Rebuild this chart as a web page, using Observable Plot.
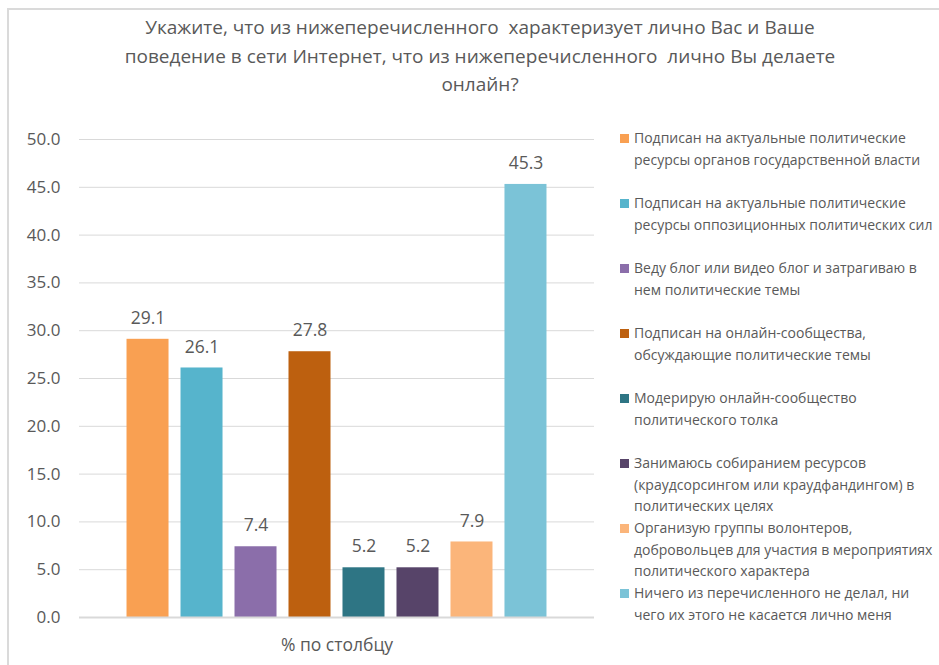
<!DOCTYPE html>
<html>
<head>
<meta charset="utf-8">
<script src="https://cdn.jsdelivr.net/npm/d3@7"></script>
<script src="https://cdn.jsdelivr.net/npm/@observablehq/plot@0.6"></script>
<style>
  body { margin: 0; background: #fff; }
  #wrap { position: relative; width: 939px; height: 665px; overflow: hidden; font-family: "Open Sans", sans-serif; }
  #frame { position: absolute; left: 7px; top: 8px; width: 1000px; height: 1000px; border-left: 2px solid #dadada; border-top: 2px solid #dadada; box-sizing: border-box; }
  #title { position: absolute; left: 40px; width: 880px; top: 13px; text-align: center; color: #595959; font-size: 19px; line-height: 28.5px; }
  #chart { position: absolute; left: 0; top: 0; }
  #legend { position: absolute; left: 620px; top: 127px; width: 319px; color: #595959; font-size: 14px; line-height: 21.5px; }
  .item { position: relative; height: 65px; padding-left: 14px; box-sizing: border-box; white-space: nowrap; }
  .sw { position: absolute; left: 0; top: 7px; width: 9px; height: 9px; }
</style>
</head>
<body>
<div id="wrap">
  <div id="frame"></div>
  <div id="title">Укажите, что из нижеперечисленного&nbsp; характеризует лично Вас и Ваше<br>поведение в сети Интернет, что из нижеперечисленного&nbsp; лично Вы делаете<br>онлайн?</div>
  <div id="chart"></div>
  <div id="legend"></div>
</div>
<script>
const categories = [
  "Подписан на актуальные политические ресурсы органов государственной власти",
  "Подписан на актуальные политические ресурсы оппозиционных политических сил",
  "Веду блог или видео блог и  затрагиваю в нем политические темы",
  "Подписан на онлайн-сообщества, обсуждающие политические темы",
  "Модерирую онлайн-сообщество политического толка",
  "Занимаюсь собиранием ресурсов (краудсорсингом или краудфандингом) в политических целях",
  "Организую группы волонтеров, добровольцев для участия в мероприятиях политического характера",
  "Ничего из перечисленного не делал, ни чего их этого не касается лично меня"
];
const legendLines = [
  ["Подписан на актуальные политические", "ресурсы органов государственной власти"],
  ["Подписан на актуальные политические", "ресурсы оппозиционных политических сил"],
  ["Веду блог или видео блог и  затрагиваю в", "нем политические темы"],
  ["Подписан на онлайн-сообщества,", "обсуждающие политические темы"],
  ["Модерирую онлайн-сообщество", "политического толка"],
  ["Занимаюсь собиранием ресурсов", "(краудсорсингом или краудфандингом) в", "политических целях"],
  ["Организую группы волонтеров,", "добровольцев для участия в мероприятиях", "политического характера"],
  ["Ничего из перечисленного не делал, ни", "чего их этого не касается лично меня"]
];
const values = [29.1, 26.1, 7.4, 27.8, 5.2, 5.2, 7.9, 45.3];
const colors = ["#f9a052", "#56b4cc", "#8b6eaa", "#bd600f", "#2e7584", "#574469", "#fbb57a", "#7bc3d7"];
const yTicks = [0, 5, 10, 15, 20, 25, 30, 35, 40, 45, 50];
const xLabel = "% по столбцу";

const data = categories.map((c, i) => ({category: c, value: values[i], color: colors[i]}));

const chart = Plot.plot({
  width: 939,
  height: 665,
  marginLeft: 79,
  marginRight: 345,
  marginTop: 139,
  marginBottom: 48,
  style: {fontFamily: "Open Sans, sans-serif", color: "#595959", background: "transparent"},
  x: {domain: categories, axis: null, paddingInner: 0.222, paddingOuter: 0.88, round: false},
  y: {domain: [0, 50], ticks: yTicks, tickFormat: d3.format(".1f"), tickSize: 0, tickPadding: 19, label: null},
  color: {domain: categories, range: colors},
  marks: [
    Plot.ruleY(yTicks.filter(d => d > 0), {stroke: "#d9d9d9", strokeWidth: 1}),
    Plot.barY(data, {x: "category", y: "value", fill: "category"}),
    Plot.ruleY([0], {stroke: "#d9d9d9", strokeWidth: 2}),
    Plot.text(data, {x: "category", y: "value", text: d => d3.format(".1f")(d.value), dy: -21, fontSize: 17.5, fill: "#595959"}),
    Plot.text([xLabel], {frameAnchor: "bottom", dy: 33, fontSize: 17.5, fill: "#595959"}),
    Plot.axisY({ticks: yTicks, tickFormat: d3.format(".1f"), tickSize: 0, tickPadding: 19, fontSize: 17, label: null, fill: "#595959"})
  ]
});
document.getElementById("chart").appendChild(chart);

const legend = document.getElementById("legend");
legendLines.forEach((lines, i) => {
  const item = document.createElement("div");
  item.className = "item";
  const sw = document.createElement("div");
  sw.className = "sw";
  sw.style.background = colors[i];
  item.appendChild(sw);
  const txt = document.createElement("div");
  txt.innerHTML = lines.join("<br>");
  item.appendChild(txt);
  legend.appendChild(item);
});
</script>
</body>
</html>
